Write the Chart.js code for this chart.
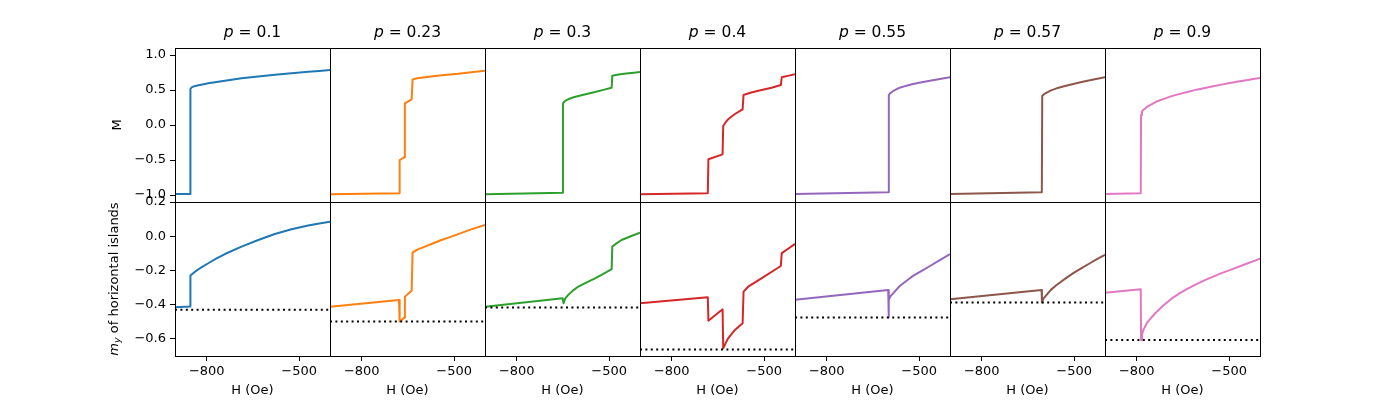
<!DOCTYPE html>
<html>
<head>
<meta charset="utf-8">
<script src="https://cdn.jsdelivr.net/npm/chart.js@4.4.1/dist/chart.umd.min.js"></script>
<style>
    body { margin: 0; background: #fff; }
    #fig { position: relative; width: 1400px; height: 400px; overflow: hidden; }
    #fig canvas { position: absolute; }
</style>
</head>
<body>
<div id="fig"></div>
<script>
// values
const pValues = [0.1, 0.23, 0.3, 0.4, 0.55, 0.57, 0.9];
const curveColors = ['#1f77b4', '#ff7f0e', '#2ca02c', '#d62728', '#9467bd', '#8c564b', '#e377c2'];
const fieldTicks = [-800, -500];
const mTicks = [1.0, 0.5, 0.0, -0.5, -1.0];
const myTicks = [0.2, 0.0, -0.2, -0.4, -0.6];
const myLevels = [-0.43, -0.499, -0.417, -0.662, -0.475, -0.387, -0.606]; // dotted lines

// p = 0.1
const fieldM1 = [-903, -854, -853, -849, -840, -827, -810, -795, -768, -741, -714, -687, -633, -579, -525, -471, -435, -400];
const magM1 = [-0.986, -0.984, 0.514, 0.538, 0.555, 0.567, 0.583, 0.595, 0.615, 0.633, 0.65, 0.667, 0.694, 0.719, 0.741, 0.762, 0.773, 0.784];
const fieldMy1 = [-903, -854, -853, -838, -816, -795, -768, -741, -687, -633, -579, -525, -471, -435, -400];
const magMy1 = [-0.415, -0.41, -0.23, -0.207, -0.18, -0.158, -0.13, -0.104, -0.061, -0.022, 0.013, 0.041, 0.063, 0.074, 0.085];

// p = 0.23
const fieldM2 = [-903, -679, -677, -662, -660, -638, -635, -620, -595, -568, -541, -514, -487, -445, -400];
const magM2 = [-0.99, -0.976, -0.5, -0.462, 0.31, 0.367, 0.652, 0.668, 0.681, 0.696, 0.71, 0.722, 0.733, 0.755, 0.776];
const fieldMy2 = [-903, -679, -677, -662, -660, -638, -635, -620, -595, -568, -541, -514, -487, -445, -400];
const magMy2 = [-0.412, -0.373, -0.499, -0.476, -0.353, -0.318, -0.096, -0.078, -0.061, -0.041, -0.022, -0.005, 0.012, 0.04, 0.066];

// p = 0.3
const fieldM3 = [-903, -651, -650, -643, -633, -618, -600, -573, -546, -519, -492, -490, -470, -445, -420, -400];
const magM3 = [-0.99, -0.967, 0.31, 0.345, 0.367, 0.392, 0.414, 0.443, 0.471, 0.502, 0.533, 0.705, 0.72, 0.735, 0.748, 0.757];
const fieldMy3 = [-903, -651, -648, -643, -633, -618, -600, -573, -546, -519, -492, -490, -475, -460, -430, -400];
const magMy3 = [-0.412, -0.363, -0.392, -0.365, -0.343, -0.318, -0.294, -0.27, -0.246, -0.22, -0.193, -0.061, -0.04, -0.022, 0.0, 0.021];

// p = 0.4
const fieldM4 = [-903, -683, -681, -635, -633, -625, -617, -595, -570, -567, -545, -519, -476, -446, -443, -420, -400];
const magM4 = [-0.99, -0.976, -0.49, -0.419, -0.014, 0.04, 0.081, 0.157, 0.224, 0.429, 0.46, 0.49, 0.533, 0.571, 0.681, 0.705, 0.724];
const fieldMy4 = [-903, -683, -681, -635, -633, -625, -617, -595, -570, -567, -552, -509, -446, -443, -420, -400];
const magMy4 = [-0.392, -0.357, -0.494, -0.427, -0.655, -0.625, -0.597, -0.548, -0.509, -0.324, -0.295, -0.246, -0.174, -0.099, -0.07, -0.045];

// p = 0.55
const fieldM5 = [-903, -600, -598.5, -593, -584, -563, -541, -520, -492, -465, -433, -400];
const magM5 = [-0.986, -0.962, 0.429, 0.46, 0.486, 0.533, 0.562, 0.586, 0.61, 0.633, 0.658, 0.681];
const fieldMy5 = [-903, -600.5, -599.5, -598, -593, -584, -563, -541, -520, -492, -465, -433, -400];
const magMy5 = [-0.372, -0.314, -0.475, -0.372, -0.35, -0.333, -0.291, -0.26, -0.232, -0.202, -0.174, -0.14, -0.105];

// p = 0.57
const fieldM6 = [-903, -605, -603.7, -598, -589.5, -575, -557, -530, -503, -476, -449, -425, -400];
const magM6 = [-0.986, -0.962, 0.414, 0.44, 0.462, 0.495, 0.524, 0.557, 0.586, 0.613, 0.638, 0.66, 0.681];
const fieldMy6 = [-903, -605.7, -604.7, -600, -589.5, -575, -557, -530, -503, -476, -449, -425, -400];
const magMy6 = [-0.369, -0.314, -0.387, -0.365, -0.343, -0.312, -0.285, -0.249, -0.216, -0.186, -0.158, -0.133, -0.109];

// p = 0.9
const fieldM7 = [-903, -787, -786, -783, -779, -768, -757, -736, -714, -687, -660, -633, -606, -579, -552, -525, -498, -471, -444, -422, -400];
const magM7 = [-0.986, -0.976, 0.143, 0.19, 0.215, 0.255, 0.285, 0.335, 0.37, 0.412, 0.445, 0.475, 0.505, 0.53, 0.553, 0.577, 0.6, 0.62, 0.64, 0.657, 0.673];
const fieldMy7 = [-903, -787, -786, -783, -779, -768, -757, -740, -714, -687, -660, -633, -606, -579, -552, -525, -498, -450, -400];
const magMy7 = [-0.33, -0.31, -0.606, -0.575, -0.55, -0.51, -0.485, -0.45, -0.405, -0.365, -0.333, -0.305, -0.28, -0.257, -0.236, -0.216, -0.198, -0.165, -0.132];

const panels = [
    {hM: fieldM1, m: magM1, hMy: fieldMy1, my: magMy1},
    {hM: fieldM2, m: magM2, hMy: fieldMy2, my: magMy2},
    {hM: fieldM3, m: magM3, hMy: fieldMy3, my: magMy3},
    {hM: fieldM4, m: magM4, hMy: fieldMy4, my: magMy4},
    {hM: fieldM5, m: magM5, hMy: fieldMy5, my: magMy5},
    {hM: fieldM6, m: magM6, hMy: fieldMy6, my: magMy6},
    {hM: fieldM7, m: magM7, hMy: fieldMy7, my: magMy7},
];

const FONT = "'DejaVu Sans', sans-serif";
const AREA_W = 155, AREA_H = 154;
const PAD_L = 75, PAD_T = 30, PAD_R = 5, PAD_B = 45;
const H_MIN = -903, H_MAX = -400;

const fig = document.getElementById('fig');

function toPoints(xs, ys) {
    return xs.map((x, i) => ({x: x, y: ys[i]}));
}

function minus(s) {
    return s.replace('-', '\u2212');
}

// frame + texts that need italic / subscript
function decorPlugin(row, col) {
    return {
        id: 'decor' + row + col,
        afterDraw(chart) {
            const a = chart.chartArea;
            const ctx = chart.ctx;
            ctx.save();
            ctx.strokeStyle = '#000';
            ctx.lineWidth = 1;
            ctx.strokeRect(a.left + 0.5, a.top + 0.5, a.width, a.height);

            ctx.fillStyle = '#000';
            ctx.textBaseline = 'middle';
            const cx = a.left + a.width / 2;

            if (row === 0) {
                // title  p = 0.x
                const italic = 'italic 15.5px ' + FONT;
                const plain = '15.5px ' + FONT;
                const rest = ' = ' + pValues[col];
                ctx.font = italic;
                const w1 = ctx.measureText('p').width;
                ctx.font = plain;
                const w2 = ctx.measureText(rest).width;
                let x = cx - (w1 + w2) / 2;
                ctx.textAlign = 'left';
                ctx.font = italic;
                ctx.fillText('p', x, a.top - 15);
                ctx.font = plain;
                ctx.fillText(rest, x + w1, a.top - 15);
            } else {
                ctx.textAlign = 'center';
                ctx.font = '13px ' + FONT;
                ctx.fillText('H (Oe)', cx, a.bottom + 35);
            }

            if (col === 0) {
                const cy = a.top + a.height / 2;
                ctx.save();
                if (row === 0) {
                    ctx.translate(a.left - 57, cy);
                    ctx.rotate(-Math.PI / 2);
                    ctx.textAlign = 'center';
                    ctx.font = '13px ' + FONT;
                    ctx.fillText('M', 0, 0);
                } else {
                    ctx.translate(a.left - 60, cy);
                    ctx.rotate(-Math.PI / 2);
                    ctx.textAlign = 'left';
                    const big = 'italic 13px ' + FONT;
                    const small = 'italic 9.5px ' + FONT;
                    const plain = '13px ' + FONT;
                    const rest = ' of horizontal islands';
                    ctx.font = big;
                    const w1 = ctx.measureText('m').width;
                    ctx.font = small;
                    const w2 = ctx.measureText('y').width;
                    ctx.font = plain;
                    const w3 = ctx.measureText(rest).width;
                    let x = -(w1 + w2 + w3) / 2;
                    ctx.font = big;
                    ctx.fillText('m', x, 0);
                    ctx.font = small;
                    ctx.fillText('y', x + w1, 3);
                    ctx.font = plain;
                    ctx.fillText(rest, x + w1 + w2, 0);
                }
                ctx.restore();
            }
            ctx.restore();
        }
    };
}

function addPanel(row, col) {
    const x0 = 175 + col * AREA_W;
    const y0 = row === 0 ? 48 : 202;
    const canvas = document.createElement('canvas');
    canvas.width = PAD_L + AREA_W + PAD_R;
    canvas.height = PAD_T + AREA_H + PAD_B;
    canvas.style.left = (x0 - PAD_L) + 'px';
    canvas.style.top = (y0 - PAD_T) + 'px';
    fig.appendChild(canvas);

    const p = panels[col];
    const datasets = [];
    if (row === 0) {
        datasets.push({
            data: toPoints(p.hM, p.m),
            borderColor: curveColors[col],
            borderWidth: 2,
        });
    } else {
        datasets.push({
            data: toPoints(p.hMy, p.my),
            borderColor: curveColors[col],
            borderWidth: 2,
            order: 1,
        });
        datasets.push({
            data: [{x: H_MIN, y: myLevels[col]}, {x: H_MAX, y: myLevels[col]}],
            borderColor: '#000',
            borderWidth: 2,
            borderDash: [2, 3.4],
            order: 0,
        });
    }

    const yTicks = row === 0 ? mTicks : myTicks;

    new Chart(canvas, {
        type: 'line',
        data: {datasets: datasets},
        options: {
            responsive: false,
            animation: false,
            devicePixelRatio: 1,
            layout: {padding: {left: 0, top: PAD_T, right: PAD_R, bottom: 0}},
            elements: {
                point: {radius: 0},
                line: {tension: 0, fill: false, borderCapStyle: 'butt', borderJoinStyle: 'round'}
            },
            plugins: {
                legend: {display: false},
                tooltip: {enabled: false},
                title: {display: false}
            },
            scales: {
                x: {
                    type: 'linear',
                    min: H_MIN,
                    max: H_MAX,
                    afterFit: s => { s.height = PAD_B; },
                    afterBuildTicks: s => { s.ticks = fieldTicks.map(v => ({value: v})); },
                    border: {display: false},
                    grid: {
                        display: row === 1,
                        drawOnChartArea: false,
                        drawTicks: true,
                        tickLength: 5,
                        color: '#000',
                        lineWidth: 1
                    },
                    ticks: {
                        display: row === 1,
                        color: '#000',
                        padding: 3,
                        maxRotation: 0,
                        font: {family: FONT, size: 13},
                        callback: v => minus(String(v))
                    }
                },
                y: {
                    type: 'linear',
                    min: row === 0 ? -1.1 : -0.7,
                    max: row === 0 ? 1.1 : 0.2,
                    afterFit: s => { s.width = PAD_L; },
                    afterBuildTicks: s => { s.ticks = yTicks.map(v => ({value: v})); },
                    border: {display: false},
                    grid: {
                        display: col === 0,
                        drawOnChartArea: false,
                        drawTicks: true,
                        tickLength: 5,
                        color: '#000',
                        lineWidth: 1
                    },
                    ticks: {
                        display: col === 0,
                        color: '#000',
                        padding: 4,
                        font: {family: FONT, size: 13},
                        callback: v => minus(v.toFixed(1))
                    }
                }
            }
        },
        plugins: [decorPlugin(row, col)]
    });
}

for (let row = 0; row < 2; row++) {
    for (let col = 0; col < pValues.length; col++) {
        addPanel(row, col);
    }
}
</script>
</body>
</html>
